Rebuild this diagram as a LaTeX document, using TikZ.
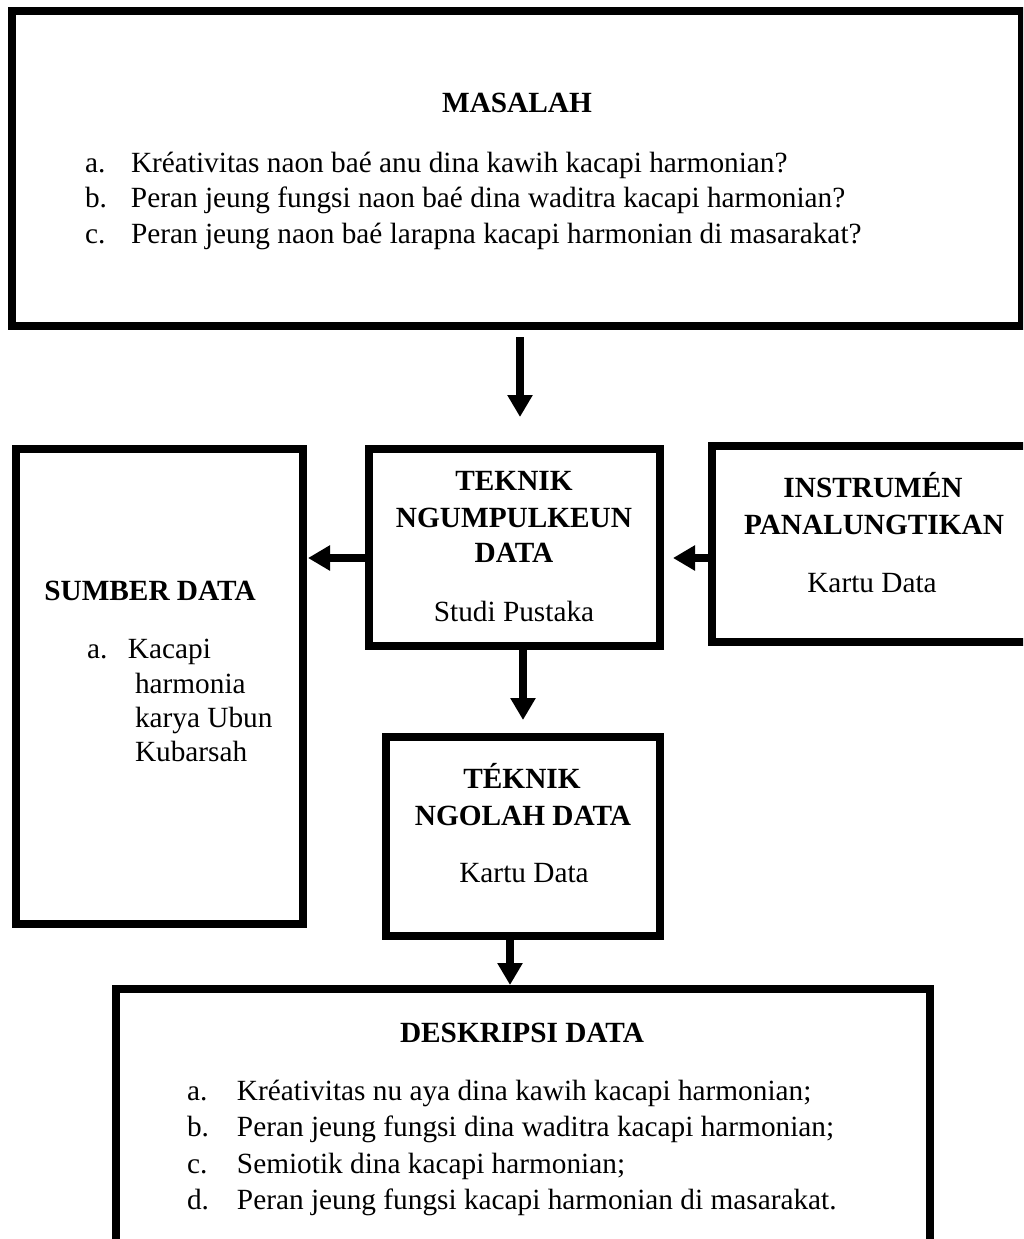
\documentclass[tikz,border=0pt]{standalone}
\usepackage{fontspec}
\setmainfont{Liberation Serif}
\usetikzlibrary{arrows.meta}
\newcommand\bodysize{\fontsize{29.3}{36}\selectfont}
\tikzset{
  box/.style={draw=black, line width=8pt, inner sep=0pt, outer sep=0pt, fill=none},
  txt/.style={inner sep=0pt, outer sep=0pt, font=\bodysize},
  head/.style={txt, anchor=base, font=\bodysize\bfseries},
  item/.style={txt, anchor=base west},
  arr/.style={line width=7.5pt, -{Triangle[length=22pt,width=24pt]}}
}
\begin{document}
\begin{tikzpicture}[x=1pt,y=-1pt]
\useasboundingbox (0,0) rectangle (1023,1239);
\clip (0,0) rectangle (1023,1239);
\fill[white] (0,0) rectangle (1023,1239);

% boxes
\node[box, minimum width=1010pt, minimum height=315pt] (masalah) at (517,168.5) {};
\node[box, minimum width=291pt, minimum height=197pt] (teknik) at (514.5,547.5) {};
\node[box, minimum width=287pt, minimum height=475pt] (sumber) at (159.5,686.5) {};
\node[box, minimum width=328pt, minimum height=195.5pt] (instr) at (876,543.75) {};
\node[box, minimum width=274pt, minimum height=199pt] (ngolah) at (523,836.5) {};
\node[box, minimum width=814pt, minimum height=257pt] (deskr) at (523,1117.5) {};

% MASALAH
\node[head] (hmas) at (517,112) {MASALAH};
\node[item] (ma) at (85,172) {\makebox[46pt][l]{a.}Kréativitas naon baé anu dina kawih kacapi harmonian?};
\node[item] (mb) at (85,207.5) {\makebox[46pt][l]{b.}Peran jeung fungsi naon baé dina waditra kacapi harmonian?};
\node[item] (mc) at (85,243) {\makebox[46pt][l]{c.}Peran jeung naon baé larapna kacapi harmonian di masarakat?};

% TEKNIK NGUMPULKEUN DATA
\node[head] (ht1) at (514,490) {TEKNIK};
\node[head] (ht2) at (514,527) {NGUMPULKEUN};
\node[head] (ht3) at (514,562) {DATA};
\node[txt, anchor=base] (tsp) at (514,621) {Studi Pustaka};

% INSTRUMEN
\node[head] (hi1) at (873,497) {INSTRUMÉN};
\node[head] (hi2) at (874,534) {PANALUNGTIKAN};
\node[txt, anchor=base] (ikd) at (872,592) {Kartu Data};

% SUMBER DATA
\node[head] (hsd) at (150,600) {SUMBER DATA};
\node[item] (sa) at (87,658) {\makebox[41pt][l]{a.}Kacapi};
\node[item] (sb) at (135,693) {harmonia};
\node[item] (sc) at (135,727) {karya Ubun};
\node[item] (sd) at (135,761) {Kubarsah};

% TEKNIK NGOLAH DATA
\node[head] (hn1) at (522,788) {TÉKNIK};
\node[head] (hn2) at (523,825) {NGOLAH DATA};
\node[txt, anchor=base] (nkd) at (524,882) {Kartu Data};

% DESKRIPSI DATA
\node[head] (hdd) at (522,1042) {DESKRIPSI DATA};
\node[item] (da) at (187,1100) {\makebox[50pt][l]{a.}Kréativitas nu aya dina kawih kacapi harmonian;};
\node[item] (db) at (187,1136.5) {\makebox[50pt][l]{b.}Peran jeung fungsi dina waditra kacapi harmonian;};
\node[item] (dc) at (187,1173) {\makebox[50pt][l]{c.}Semiotik dina kacapi harmonian;};
\node[item] (dd) at (187,1209.5) {\makebox[50pt][l]{d.}Peran jeung fungsi kacapi harmonian di masarakat.};

% connectors
\coordinate (x1) at (520,0);
\coordinate (y2) at (0,558);
\coordinate (x4) at (523,0);
\coordinate (x5) at (510,0);
\draw[arr, shorten <=11pt, shorten >=32pt] (masalah.south -| x1) -- (teknik.north -| x1);
\draw[arr, shorten >=5pt] (teknik.west |- y2) -- (sumber.east |- y2);
\draw[arr, shorten >=13pt] (instr.west |- y2) -- (teknik.east |- y2);
\draw[arr, shorten >=17pt] (teknik.south -| x4) -- (ngolah.north -| x4);
\draw[arr, shorten >=4pt] (ngolah.south -| x5) -- (deskr.north -| x5);
\end{tikzpicture}
\end{document}
